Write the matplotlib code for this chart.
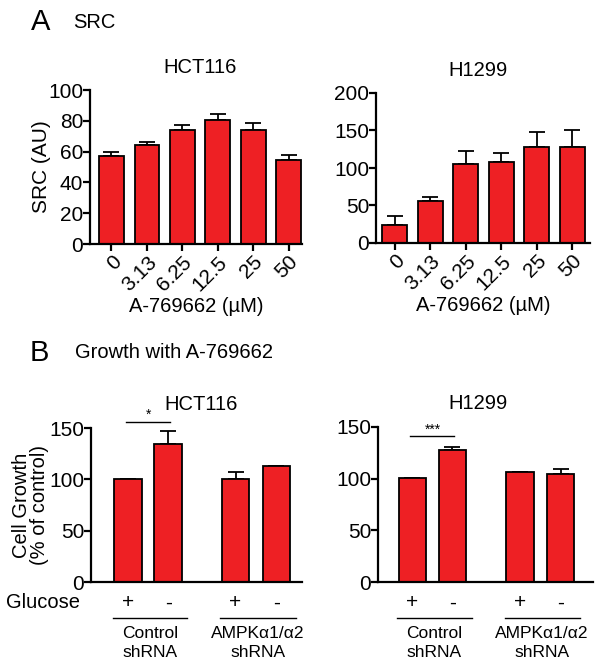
import matplotlib
matplotlib.use('Agg')
import matplotlib.pyplot as plt
from matplotlib import rcParams

rcParams['font.family'] = ['Liberation Sans', 'DejaVu Sans']
rcParams['font.size'] = 14

# Panel A: SRC vs A-769662 dose
doses = ['0', '3.13', '6.25', '12.5', '25', '50']
src_hct116 = [57, 64, 74, 80.5, 74, 54.5]
src_hct116_err = [2.5, 2, 3.5, 4, 4.5, 3]
src_h1299 = [24, 55.5, 105, 108.5, 128, 128]
src_h1299_err = [11.5, 6, 17, 12, 20.5, 23]

# Panel B: growth with A-769662
glucose = ['+', '-', '+', '-']
groups = ['Control\nshRNA', 'AMPK\u03b11/\u03b12\nshRNA']
growth_hct116 = [100, 134, 100, 113]
growth_hct116_err = [0, 13, 7, 0]
growth_h1299 = [101, 128, 106, 105]
growth_h1299_err = [0, 2.5, 0.5, 4.5]

RED = '#EE2024'
W, H = 602, 669

fig = plt.figure(figsize=(W / 100, H / 100), dpi=100)


def add_ax(x0, x1, ytop, ybot):
    return fig.add_axes([x0 / W, 1 - ybot / H, (x1 - x0) / W, (ybot - ytop) / H])


def style(ax):
    for s in ['top', 'right']:
        ax.spines[s].set_visible(False)
    for s in ['left', 'bottom']:
        ax.spines[s].set_linewidth(1.6)
    ax.tick_params(width=1.6, length=5, pad=1, labelsize=15)
    ax.tick_params(axis='y', pad=0)


def dose_panel(ax, vals, errs, ymax, yticks, title, xlim, title_x):
    pos = list(range(len(doses)))
    ax.bar(pos, vals, width=0.7, color=RED, edgecolor='black', linewidth=1.3, zorder=2)
    ax.errorbar(pos, vals, yerr=[[0] * len(errs), errs], fmt='none', ecolor='black',
                elinewidth=1.3, capsize=6, capthick=1.3, zorder=1)
    ax.set_ylim(0, ymax)
    ax.set_yticks(yticks)
    ax.set_xlim(*xlim)
    ax.set_xticks(pos)
    ax.set_xticklabels(doses, rotation=45, ha='right', rotation_mode='anchor')
    ax.tick_params(axis='x', pad=4)
    ax.set_xlabel('A-769662 (\u00b5M)', fontsize=14.5, labelpad=2)
    ax.set_title(title, fontsize=14.5, pad=12, x=title_x)
    style(ax)


def growth_panel(ax, vals, errs, title, xlim, sig_text, sig_y, title_x):
    pos = [0, 1, 2.68, 3.7]
    ax.bar(pos, vals, width=0.69, color=RED, edgecolor='black', linewidth=1.3, zorder=2)
    ax.errorbar(pos, vals, yerr=[[0] * len(errs), errs], fmt='none', ecolor='black',
                elinewidth=1.3, capsize=6, capthick=1.3, zorder=1)
    ax.set_ylim(0, 150)
    ax.set_yticks([0, 50, 100, 150])
    ax.set_xlim(*xlim)
    ax.set_xticks([])
    ax.set_title(title, fontsize=14.5, pad=13, x=title_x)
    style(ax)
    ax.plot([-0.05, 1.05], [sig_y, sig_y], color='black', lw=1, clip_on=False)
    ax.text(0.5, sig_y, sig_text, ha='center', va='bottom', fontsize=10)
    # glucose signs and shRNA groups below the axis
    tr = ax.get_xaxis_transform()
    for p, g in zip(pos, glucose):
        ax.text(p, -0.135, g, transform=tr, ha='center', va='center', fontsize=15)
    for (a, b), name in zip([(pos[0], pos[1]), (pos[2], pos[3])], groups):
        ax.plot([a - 0.38, b + 0.48], [-0.235, -0.235], transform=tr, color='black',
                lw=1, clip_on=False)
        ax.text((a + b) / 2 + 0.05, -0.285, name, transform=tr, ha='center', va='top',
                fontsize=12.5, linespacing=1.35)


# Panel A
ax1 = add_ax(90, 302, 90, 244)
dose_panel(ax1, src_hct116, src_hct116_err, 100, [0, 20, 40, 60, 80, 100], 'HCT116',
           (-0.607, 5.38), 0.52)
ax1.set_ylabel('SRC (AU)', fontsize=15)
ax1.yaxis.set_label_coords(-0.185, 0.5)

ax2 = add_ax(376, 590, 93, 243)
dose_panel(ax2, src_h1299, src_h1299_err, 200, [0, 50, 100, 150, 200], 'H1299',
           (-0.53, 5.5), 0.475)

# Panel B
ax3 = add_ax(91, 302, 428, 582)
growth_panel(ax3, growth_hct116, growth_hct116_err, 'HCT116', (-0.93, 4.34), '*', 156,
             0.52)
ax3.set_ylabel('Cell Growth\n(% of control)', fontsize=14.5, linespacing=0.95)
ax3.yaxis.set_label_coords(-0.2, 0.5)
ax3.text(-0.05, -0.135, 'Glucose', transform=ax3.transAxes, ha='right', va='center',
         fontsize=14.5)

ax4 = add_ax(378, 593, 427, 582)
growth_panel(ax4, growth_h1299, growth_h1299_err, 'H1299', (-0.86, 4.51), '***', 141,
             0.465)

# panel letters
fig.text(31 / W, 1 - 22 / H, 'A', fontsize=21, va='center', ha='left')
fig.text(73 / W, 1 - 22 / H, 'SRC', fontsize=14.5, va='center', ha='left')
fig.text(30 / W, 1 - 353 / H, 'B', fontsize=21, va='center', ha='left')
fig.text(75 / W, 1 - 353 / H, 'Growth with A-769662', fontsize=14.5, va='center', ha='left')

fig.savefig('out.png', dpi=100)
